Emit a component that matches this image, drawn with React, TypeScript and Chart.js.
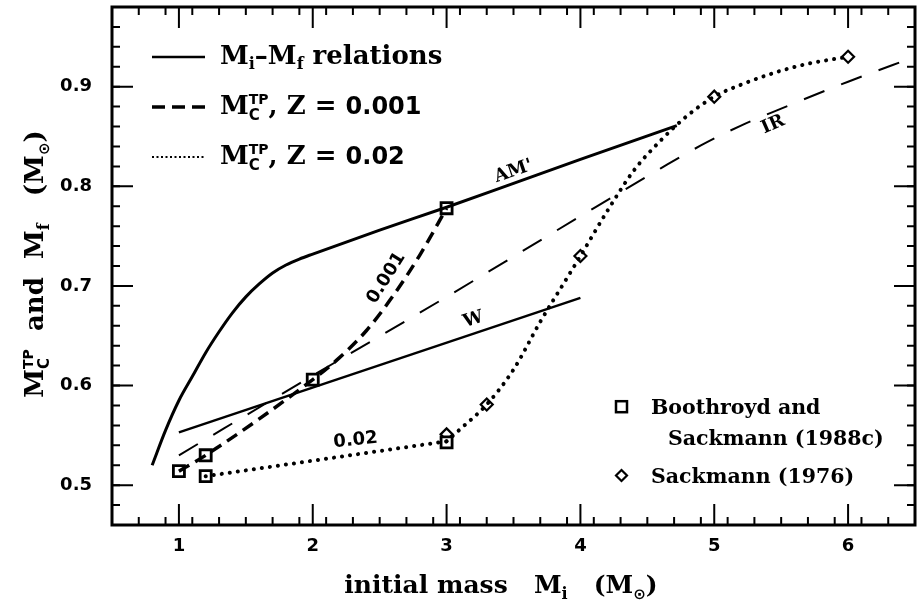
import React, { useEffect, useRef } from 'react';
import { Chart, registerables } from 'chart.js';

Chart.register(...registerables);

const SERIF = '"DejaVu Serif", serif';
const SANS = '"DejaVu Sans", sans-serif';

// ---- axes ----
const xTicks = [1, 2, 3, 4, 5, 6];
const yTicks = [0.5, 0.6, 0.7, 0.8, 0.9];
const xMin = 0.5, xMax = 6.5;
const yMin = 0.46, yMax = 0.98;
const xMinorStep = 0.2;
const yMinorStep = 0.02;

// ---- solid Mi-Mf relations ----
const amX = [0.8, 0.9, 1.0, 1.1, 1.2, 1.3, 1.4, 1.5, 1.6, 1.7, 1.8, 1.9, 2.0, 2.5, 3.0, 3.5, 4.0, 4.72];
const amY = [0.52, 0.555, 0.585, 0.609, 0.633, 0.654, 0.673, 0.689, 0.702, 0.713, 0.721, 0.727, 0.732, 0.756, 0.779, 0.803, 0.827, 0.861];
const wX = [1.0, 4.0];
const wY = [0.553, 0.688];
// ---- IR (long dashes) ----
const irX = [1.0, 2.0, 3.0, 4.0, 4.6, 4.9, 5.2, 5.5, 6.0, 6.5];
const irY = [0.530, 0.610, 0.689, 0.770, 0.818, 0.841, 0.861, 0.878, 0.905, 0.930];
// ---- Mc^TP, Z = 0.001 ----
const z001X = [1.0, 1.2, 2.0, 2.2, 2.4, 2.6, 2.8, 3.0];
const z001Y = [0.514, 0.530, 0.606, 0.628, 0.655, 0.690, 0.731, 0.778];
// ---- Mc^TP, Z = 0.02 (low-mass straight part, then S-curve) ----
const z02LowX = [1.2, 3.0];
const z02LowY = [0.509, 0.544];
const z02HighX = [3.0, 3.1, 3.3, 3.5, 3.7, 3.9, 4.0, 4.2, 4.4, 4.6, 4.8, 5.0, 5.2, 5.45, 5.7, 6.0];
const z02HighY = [0.544, 0.556, 0.581, 0.616, 0.664, 0.708, 0.730, 0.775, 0.816, 0.846, 0.871, 0.890, 0.902, 0.914, 0.923, 0.930];
// ---- Boothroyd & Sackmann (1988c) squares ----
const bsX = [1.0, 1.2, 1.2, 2.0, 3.0, 3.0];
const bsY = [0.514, 0.530, 0.509, 0.606, 0.778, 0.543];
// ---- Sackmann (1976) diamonds ----
const skX = [3.0, 3.3, 4.0, 5.0, 6.0];
const skY = [0.551, 0.581, 0.730, 0.890, 0.930];

// in-plot curve labels (data coords)
const curveLabels = [
  { text: "AM'", x: 3.5, y: 0.815, angle: -19, font: `bold 18px ${SERIF}` },
  { text: 'W', x: 3.2, y: 0.666, angle: -18, font: `bold 18px ${SERIF}` },
  { text: 'IR', x: 5.44, y: 0.862, angle: -24, font: `bold 18px ${SERIF}` },
  { text: '0.001', x: 2.55, y: 0.708, angle: -58, font: `bold 18px ${SANS}` },
  { text: '0.02', x: 2.32, y: 0.545, angle: -6, font: `bold 18px ${SANS}` },
];

const pts = (xs: number[], ys: number[]) => xs.map((x, i) => ({ x, y: ys[i] }));

type Part = { t: string; font: string; dy?: number; over?: boolean };

function drawParts(ctx: CanvasRenderingContext2D, parts: Part[], x0: number, y0: number, align: 'left' | 'center') {
  let x = 0, prevStart = 0;
  const lay: { p: Part; sx: number }[] = [];
  for (const p of parts) {
    ctx.font = p.font;
    const w = ctx.measureText(p.t).width;
    let sx: number;
    if (p.over) { sx = prevStart; x = Math.max(x, sx + w); }
    else { sx = x; x = sx + w; }
    prevStart = sx;
    lay.push({ p, sx });
  }
  const start = align === 'center' ? x0 - x / 2 : x0;
  ctx.textAlign = 'left';
  ctx.textBaseline = 'alphabetic';
  for (const { p, sx } of lay) {
    ctx.font = p.font;
    ctx.fillText(p.t, start + sx, y0 + (p.dy || 0));
  }
}

const legF = `bold 26px ${SERIF}`;
const legSub = `bold 16px ${SERIF}`;
const xtF = `bold 25px ${SERIF}`;
const ytF = `bold 26px ${SERIF}`;
const titleSub = `bold 16px ${SERIF}`;
const supF = `bold 14px ${SANS}`;
const subC = `bold 15px ${SANS}`;
const sunF = `bold 15px ${SANS}`;

const decor = {
  id: 'decor',
  afterDraw(chart: any) {
    const { ctx, chartArea: a, scales } = chart;
    const xs = scales.x, ys = scales.y;
    ctx.save();
    ctx.strokeStyle = '#000';
    ctx.fillStyle = '#000';
    ctx.lineCap = 'butt';
    // inward ticks on all four sides
    const tick = (isX: boolean, v: number, len: number) => {
      ctx.beginPath();
      if (isX) {
        const p = xs.getPixelForValue(v);
        ctx.moveTo(p, a.bottom); ctx.lineTo(p, a.bottom - len);
        ctx.moveTo(p, a.top); ctx.lineTo(p, a.top + len);
      } else {
        const p = ys.getPixelForValue(v);
        ctx.moveTo(a.left, p); ctx.lineTo(a.left + len, p);
        ctx.moveTo(a.right, p); ctx.lineTo(a.right - len, p);
      }
      ctx.stroke();
    };
    ctx.lineWidth = 2;
    const nx = Math.round((xMax - xMin) / xMinorStep);
    for (let i = 1; i < nx; i++) tick(true, xMin + i * xMinorStep, 8);
    const ny = Math.round((yMax - yMin) / yMinorStep);
    for (let i = 1; i < ny; i++) tick(false, yMin + i * yMinorStep, 8);
    xTicks.forEach((v) => tick(true, v, 21));
    yTicks.forEach((v) => tick(false, v, 21));
    // frame
    ctx.lineWidth = 3;
    ctx.strokeRect(a.left, a.top, a.right - a.left, a.bottom - a.top);

    // curve labels
    curveLabels.forEach((l) => {
      ctx.save();
      ctx.translate(xs.getPixelForValue(l.x), ys.getPixelForValue(l.y));
      ctx.rotate((l.angle * Math.PI) / 180);
      ctx.font = l.font;
      ctx.textAlign = 'center';
      ctx.textBaseline = 'middle';
      ctx.fillText(l.text, 0, 0);
      ctx.restore();
    });

    // top-left legend
    const lx0 = 152, lx1 = 205, tx = 220;
    const rows = [64, 114, 164];
    ctx.lineWidth = 2.5; ctx.setLineDash([]);
    ctx.beginPath(); ctx.moveTo(lx0, 57); ctx.lineTo(lx1, 57); ctx.stroke();
    ctx.lineWidth = 3.5; ctx.setLineDash([13, 7]);
    ctx.beginPath(); ctx.moveTo(lx0, 107); ctx.lineTo(lx1, 107); ctx.stroke();
    ctx.lineWidth = 2; ctx.setLineDash([2, 2.5]);
    ctx.beginPath(); ctx.moveTo(lx0, 157); ctx.lineTo(lx1, 157); ctx.stroke();
    ctx.setLineDash([]);
    drawParts(ctx, [
      { t: 'M', font: legF }, { t: 'i', font: legSub, dy: 5 }, { t: '\u2013', font: legF },
      { t: 'M', font: legF }, { t: 'f', font: legSub, dy: 5 }, { t: ' relations', font: legF },
    ], tx, rows[0], 'left');
    drawParts(ctx, [
      { t: 'M', font: legF }, { t: 'TP', font: supF, dy: -10 }, { t: 'C', font: subC, dy: 6, over: true },
      { t: ', Z = ', font: legF }, { t: '0.001', font: `bold 24px ${SANS}` },
    ], tx, rows[1], 'left');
    drawParts(ctx, [
      { t: 'M', font: legF }, { t: 'TP', font: supF, dy: -10 }, { t: 'C', font: subC, dy: 6, over: true },
      { t: ', Z = ', font: legF }, { t: '0.02', font: `bold 24px ${SANS}` },
    ], tx, rows[2], 'left');

    // bottom-right legend
    ctx.lineWidth = 2.5;
    ctx.strokeRect(621.5 - 5.5, 406.7 - 5.5, 11, 11);
    ctx.lineWidth = 2.2;
    ctx.beginPath();
    ctx.moveTo(621.5, 470); ctx.lineTo(627, 475.5); ctx.lineTo(621.5, 481); ctx.lineTo(616, 475.5); ctx.closePath();
    ctx.stroke();
    const mid = `bold 20.5px ${SERIF}`;
    drawParts(ctx, [{ t: 'Boothroyd and', font: mid }], 651, 414, 'left');
    drawParts(ctx, [{ t: 'Sackmann (1988c)', font: mid }], 668, 445, 'left');
    drawParts(ctx, [{ t: 'Sackmann (1976)', font: mid }], 651, 483, 'left');

    // x-axis title
    drawParts(ctx, [
      { t: 'initial mass   ', font: xtF }, { t: 'M', font: xtF }, { t: 'i', font: titleSub, dy: 6 },
      { t: '   (', font: xtF }, { t: 'M', font: xtF }, { t: '\u2299', font: sunF, dy: 6 }, { t: ')', font: xtF },
    ], 501, 593, 'center');

    // y-axis title
    ctx.save();
    ctx.translate(43, 264);
    ctx.rotate(-Math.PI / 2);
    drawParts(ctx, [
      { t: 'M', font: ytF }, { t: 'TP', font: supF, dy: -10 }, { t: 'C', font: subC, dy: 6, over: true },
      { t: '  and  ', font: ytF }, { t: 'M', font: ytF }, { t: 'f', font: titleSub, dy: 6 },
      { t: '   (', font: ytF }, { t: 'M', font: ytF }, { t: '\u2299', font: sunF, dy: 6 }, { t: ')', font: ytF },
    ], 0, 0, 'center');
    ctx.restore();

    ctx.restore();
  },
};

const zeroPad = (s: any) => { s.paddingTop = 0; s.paddingBottom = 0; s.paddingLeft = 0; s.paddingRight = 0; };

export default function App() {
  const ref = useRef<HTMLCanvasElement>(null);
  useEffect(() => {
    const tickFont = { family: SANS, size: 18, weight: 'bold' as const };
    const chart = new Chart(ref.current!, {
      type: 'scatter',
      data: {
        datasets: [
          { data: pts(amX, amY), showLine: true, borderColor: '#000', borderWidth: 3, pointRadius: 0, cubicInterpolationMode: 'monotone' },
          { data: pts(wX, wY), showLine: true, borderColor: '#000', borderWidth: 2.5, pointRadius: 0 },
          { data: pts(irX, irY), showLine: true, borderColor: '#000', borderWidth: 2, borderDash: [22, 18], pointRadius: 0, cubicInterpolationMode: 'monotone' },
          { data: pts(z001X, z001Y), showLine: true, borderColor: '#000', borderWidth: 3.5, borderDash: [12, 7], pointRadius: 0, cubicInterpolationMode: 'monotone' },
          { data: pts(z02LowX, z02LowY), showLine: true, borderColor: '#000', borderWidth: 4, borderDash: [0.1, 8], borderCapStyle: 'round', pointRadius: 0 },
          { data: pts(z02HighX, z02HighY), showLine: true, borderColor: '#000', borderWidth: 4, borderDash: [0.1, 8], borderCapStyle: 'round', pointRadius: 0, cubicInterpolationMode: 'monotone' },
          { data: pts(bsX, bsY), showLine: false, pointStyle: 'rect', pointRadius: 7.8, pointBorderWidth: 2.8, pointBorderColor: '#000', pointBackgroundColor: 'rgba(255,255,255,1)' },
          { data: pts(skX, skY), showLine: false, pointStyle: 'rectRot', pointRadius: 6, pointBorderWidth: 2.2, pointBorderColor: '#000', pointBackgroundColor: 'rgba(255,255,255,1)' },
        ] as any,
      },
      options: {
        animation: false,
        responsive: false,
        layout: { autoPadding: false, padding: { top: 7, right: 4, left: 0, bottom: 0 } },
        plugins: { legend: { display: false }, tooltip: { enabled: false } },
        scales: {
          x: {
            type: 'linear', min: xMin, max: xMax,
            grid: { display: false, drawTicks: false },
            border: { display: false },
            afterBuildTicks: (s: any) => { s.ticks = xTicks.map((v) => ({ value: v })); },
            afterFit: (s: any) => { s.height = 75; zeroPad(s); },
            ticks: { font: tickFont, color: '#000', padding: 11, maxRotation: 0, autoSkip: false, callback: (v: any) => String(v) },
          },
          y: {
            type: 'linear', min: yMin, max: yMax,
            grid: { display: false, drawTicks: false },
            border: { display: false },
            afterBuildTicks: (s: any) => { s.ticks = yTicks.map((v) => ({ value: v })); },
            afterFit: (s: any) => { s.width = 112; zeroPad(s); },
            ticks: { font: tickFont, color: '#000', padding: 20, autoSkip: false, callback: (v: any) => Number(v).toFixed(1) },
          },
        },
      } as any,
      plugins: [decor],
    });
    return () => chart.destroy();
  }, []);
  return (
    <div style={{ position: 'absolute', left: 0, top: 0, width: 919, height: 600, background: '#fff' }}>
      <canvas ref={ref} width={919} height={600} style={{ display: 'block' }} />
    </div>
  );
}
